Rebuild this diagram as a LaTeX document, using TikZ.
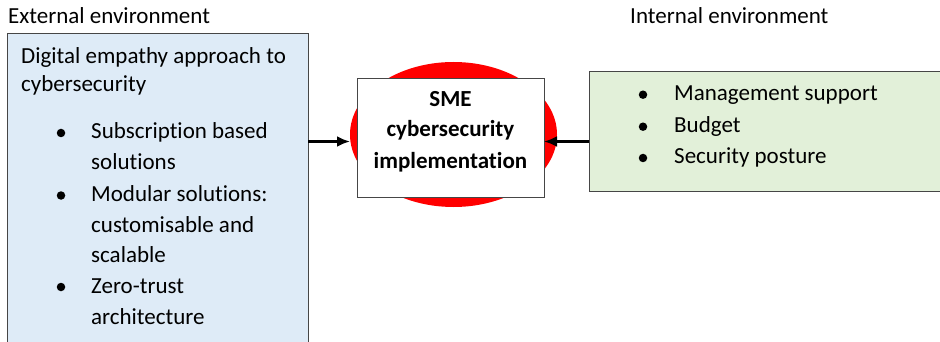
\documentclass[tikz,border=0pt]{standalone}
\usepackage{fontspec}
\setmainfont{Carlito}[Ligatures=NoCommon]
\usetikzlibrary{positioning}
\usetikzlibrary{calc}
\usetikzlibrary{arrows.meta,shapes}

\definecolor{extblue}{RGB}{222,235,247}
\definecolor{intgreen}{RGB}{226,240,217}
\definecolor{boxline}{RGB}{70,70,70}

\tikzset{
txt/.style={anchor=base west, inner sep=0pt, font=\fontsize{23}{28}\selectfont},
boldtxt/.style={anchor=base, inner sep=0pt, font=\fontsize{23}{28}\selectfont\bfseries},
dot/.style={circle, fill=black, inner sep=0pt, minimum size=8.5pt},
envbox/.style={draw=boxline, line width=0.9pt, inner sep=0pt, outer sep=0pt},
arr/.style={-{Latex[length=13pt,width=11pt]}, line width=2.7pt},
}

\begin{document}
\begin{tikzpicture}[x=1pt,y=-1pt]
\useasboundingbox (0,0) rectangle (940,342);

% environment boxes
\node[envbox, fill=extblue, anchor=north west, minimum width=301pt, minimum height=330pt](ext) at (7,33.5){};
\node[envbox, fill=intgreen, anchor=north west, minimum width=361pt, minimum height=120pt](int) at (589,71){};
\node[ellipse, fill=red, inner sep=0pt, outer sep=0pt, minimum width=207pt, minimum height=145pt](oval) at (453.5,134.5){};
\node[envbox, fill=white, minimum width=187pt, minimum height=119pt](core) at (450.5,137.5){};

% labels
\node[txt](extlabel) at (8,24){External environment};
\node[txt](intlabel) at (630,24){Internal environment};

% external
\node[txt](head1) at (21,63.5){Digital empathy approach to};
\node[txt](head2) at (21,91.5){cybersecurity};
\node[dot](b1) at (61,133){};
\node[txt](sub1) at (91,139){Subscription based};
\node[txt](sub2) at (91,170){solutions};
\node[dot](b2) at (61,195.5){};
\node[txt](mod1) at (91,201.5){Modular solutions:};
\node[txt](mod2) at (91,232){customisable and};
\node[txt](mod3) at (91,262.5){scalable};
\node[dot](b3) at (61,287){};
\node[txt](zero1) at (91,293){Zero-trust};
\node[txt](zero2) at (91,324){architecture};

% internal
\node[dot](b4) at (643,94.7){};
\node[txt](mgmt) at (674,100.7){Management support};
\node[dot](b5) at (643,126.7){};
\node[txt](budget) at (674,132.7){Budget};
\node[dot](b6) at (643,158){};
\node[txt](posture) at (674,164){Security posture};

% core
\node[boldtxt](sme) at (450.5,106.7){SME};
\node[boldtxt](cyber) at (450.5,137){cybersecurity};
\node[boldtxt](impl) at (450.5,168){implementation};

\coordinate (row) at (0,141.5);
\path
(ext.east |- row) edge[arr] (oval.west |- row)
(int.west |- row) edge[arr] (core.east |- row);
\end{tikzpicture}
\end{document}
